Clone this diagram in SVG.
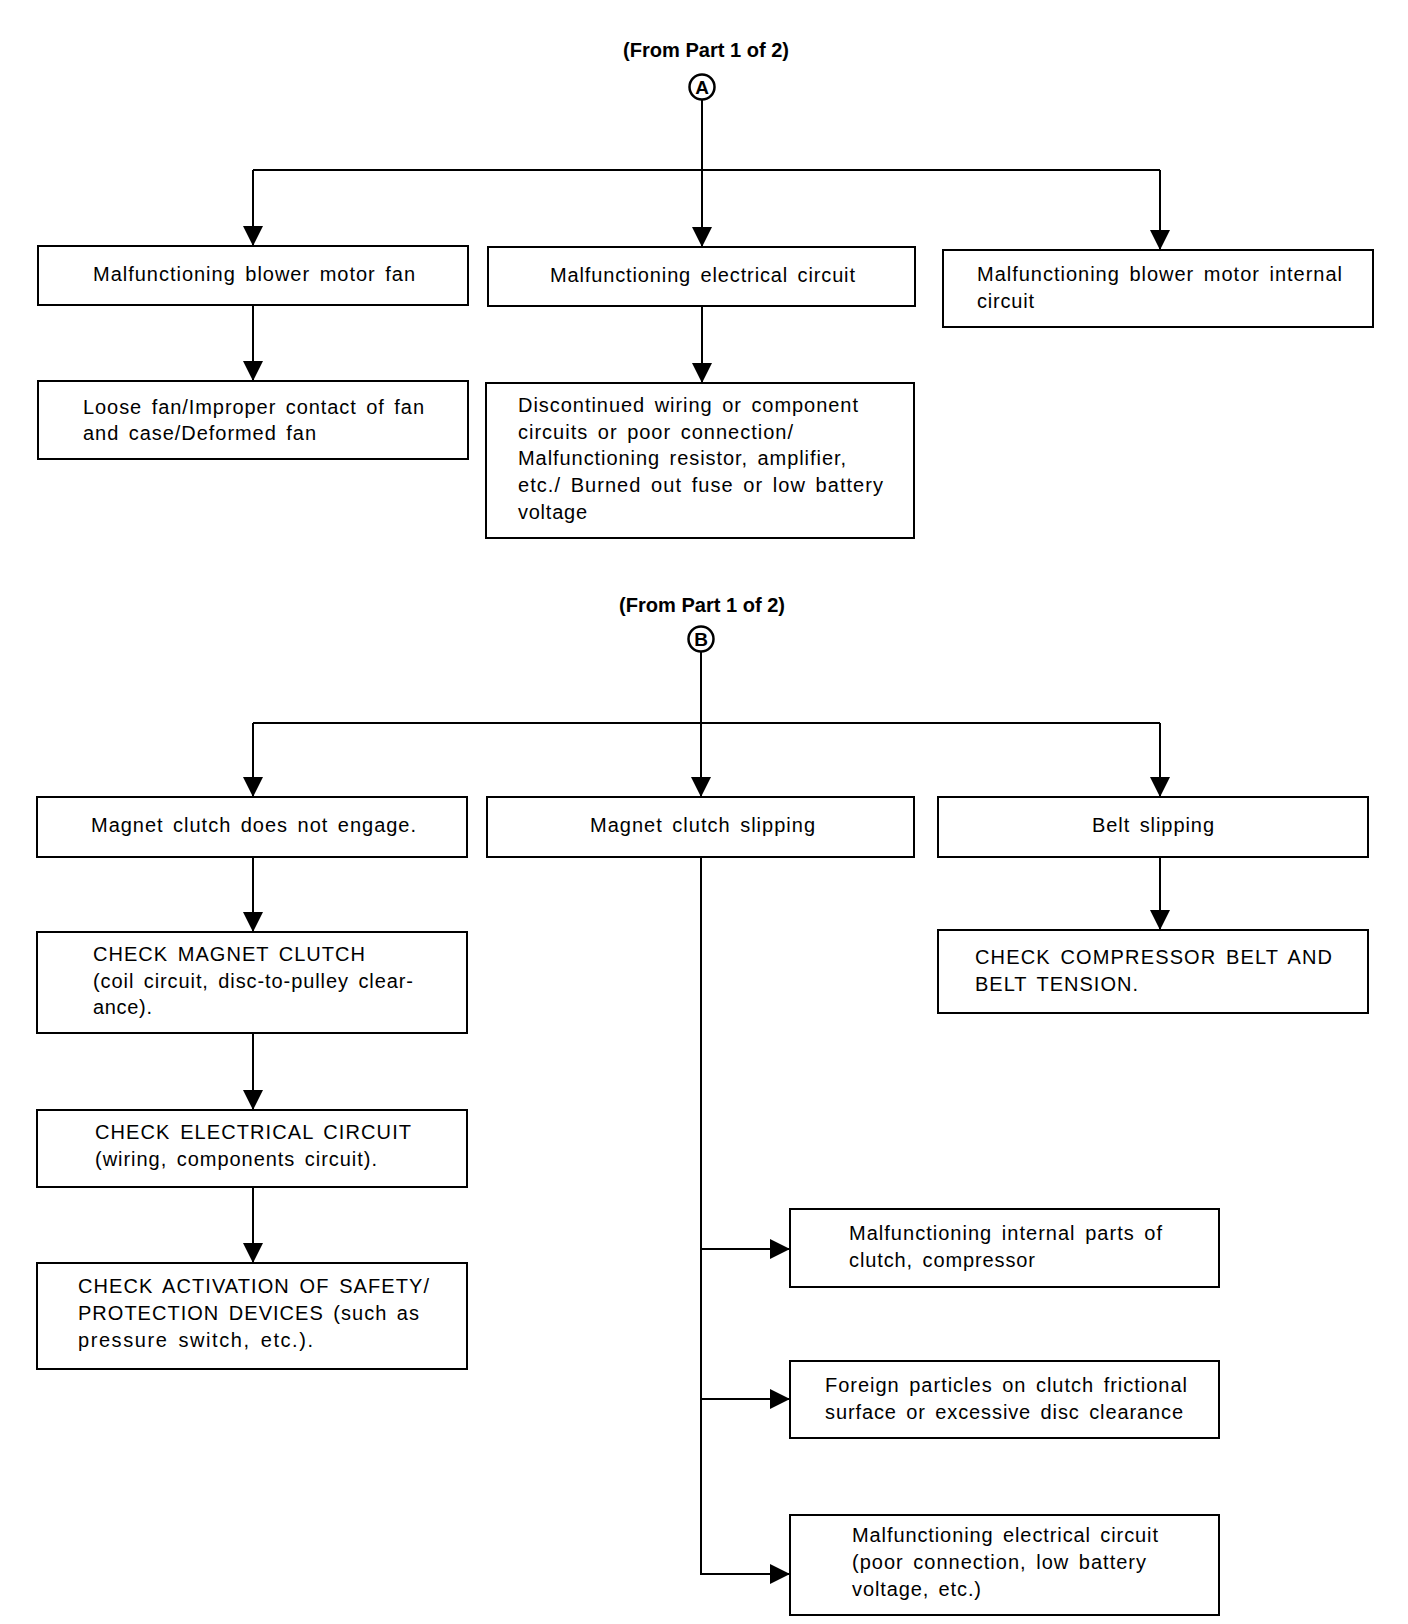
<svg xmlns="http://www.w3.org/2000/svg" width="1408" height="1624" viewBox="0 0 1408 1624">
<style>
.bg{fill:#fff}
.box{fill:#fff;stroke:#000;stroke-width:2}
.ln{fill:none;stroke:#000;stroke-width:2}
.t{font-family:"Liberation Sans",Arial,sans-serif;font-size:20px;fill:#000;word-spacing:3px}
.hd{font-family:"Liberation Sans",Arial,sans-serif;font-size:20px;font-weight:bold;fill:#000;text-anchor:middle}
.lt{font-family:"Liberation Sans",Arial,sans-serif;font-size:19px;font-weight:bold;fill:#000;text-anchor:middle}
.circ{fill:#fff;stroke:#000;stroke-width:2.5}
</style>
<defs>
<marker id="ar" markerUnits="userSpaceOnUse" markerWidth="20" markerHeight="20" viewBox="0 0 20 20" refX="20" refY="10" orient="auto">
<path d="M0,0 L20,10 L0,20 z" fill="#000"/>
</marker>
</defs>
<rect class="bg" x="0" y="0" width="1408" height="1624"/>

<g id="connectors">
<line class="ln" x1="702" y1="100" x2="702" y2="247" marker-end="url(#ar)"/>
<line class="ln" x1="253" y1="170" x2="1160" y2="170"/>
<line class="ln" x1="253" y1="170" x2="253" y2="246" marker-end="url(#ar)"/>
<line class="ln" x1="1160" y1="170" x2="1160" y2="250" marker-end="url(#ar)"/>
<line class="ln" x1="253" y1="305" x2="253" y2="381" marker-end="url(#ar)"/>
<line class="ln" x1="702" y1="306" x2="702" y2="383" marker-end="url(#ar)"/>

<line class="ln" x1="701" y1="652" x2="701" y2="797" marker-end="url(#ar)"/>
<line class="ln" x1="253" y1="723" x2="1160" y2="723"/>
<line class="ln" x1="253" y1="723" x2="253" y2="797" marker-end="url(#ar)"/>
<line class="ln" x1="1160" y1="723" x2="1160" y2="797" marker-end="url(#ar)"/>
<line class="ln" x1="253" y1="857" x2="253" y2="932" marker-end="url(#ar)"/>
<line class="ln" x1="253" y1="1033" x2="253" y2="1110" marker-end="url(#ar)"/>
<line class="ln" x1="253" y1="1187" x2="253" y2="1263" marker-end="url(#ar)"/>
<line class="ln" x1="1160" y1="857" x2="1160" y2="930" marker-end="url(#ar)"/>
<polyline class="ln" points="701,857 701,1574 790,1574" marker-end="url(#ar)"/>
<line class="ln" x1="701" y1="1249" x2="790" y2="1249" marker-end="url(#ar)"/>
<line class="ln" x1="701" y1="1399" x2="790" y2="1399" marker-end="url(#ar)"/>
</g>

<g id="headerA">
<text class="hd" x="706" y="57" textLength="166" lengthAdjust="spacingAndGlyphs">(From Part 1 of 2)</text>
<circle class="circ" cx="702" cy="87" r="12.5"/>
<text class="lt" x="702" y="94">A</text>
</g>
<g id="headerB">
<text class="hd" x="702" y="612" textLength="166" lengthAdjust="spacingAndGlyphs">(From Part 1 of 2)</text>
<circle class="circ" cx="701" cy="639" r="12.5"/>
<text class="lt" x="701" y="646">B</text>
</g>

<g id="n1"><rect class="box" x="38" y="246" width="430" height="59"/>
<text class="t" x="93" y="281" textLength="322" lengthAdjust="spacing">Malfunctioning blower motor fan</text></g>
<g id="n2"><rect class="box" x="488" y="247" width="427" height="59"/>
<text class="t" x="550" y="282" textLength="305" lengthAdjust="spacing">Malfunctioning electrical circuit</text></g>
<g id="n3"><rect class="box" x="943" y="250" width="430" height="77"/>
<text class="t" x="977" y="281" textLength="365" lengthAdjust="spacing">Malfunctioning blower motor internal</text>
<text class="t" x="977" y="308" textLength="57" lengthAdjust="spacing">circuit</text></g>
<g id="n4"><rect class="box" x="38" y="381" width="430" height="78"/>
<text class="t" x="83" y="414" textLength="341" lengthAdjust="spacing">Loose fan/Improper contact of fan</text>
<text class="t" x="83" y="440" textLength="233" lengthAdjust="spacing">and case/Deformed fan</text></g>
<g id="n5"><rect class="box" x="486" y="383" width="428" height="155"/>
<text class="t" x="518" y="412" textLength="340" lengthAdjust="spacing">Discontinued wiring or component</text>
<text class="t" x="518" y="439" textLength="275" lengthAdjust="spacing">circuits or poor connection/</text>
<text class="t" x="518" y="465" textLength="328" lengthAdjust="spacing">Malfunctioning resistor, amplifier,</text>
<text class="t" x="518" y="492" textLength="365" lengthAdjust="spacing">etc./ Burned out fuse or low battery</text>
<text class="t" x="518" y="519" textLength="69" lengthAdjust="spacing">voltage</text></g>

<g id="m1"><rect class="box" x="37" y="797" width="430" height="60"/>
<text class="t" x="91" y="832" textLength="325" lengthAdjust="spacing">Magnet clutch does not engage.</text></g>
<g id="m2"><rect class="box" x="487" y="797" width="427" height="60"/>
<text class="t" x="590" y="832" textLength="225" lengthAdjust="spacing">Magnet clutch slipping</text></g>
<g id="m3"><rect class="box" x="938" y="797" width="430" height="60"/>
<text class="t" x="1092" y="832" textLength="122" lengthAdjust="spacing">Belt slipping</text></g>
<g id="m4"><rect class="box" x="37" y="932" width="430" height="101"/>
<text class="t" x="93" y="961" textLength="272" lengthAdjust="spacing">CHECK MAGNET CLUTCH</text>
<text class="t" x="93" y="988" textLength="320" lengthAdjust="spacing">(coil circuit, disc-to-pulley clear-</text>
<text class="t" x="93" y="1014" textLength="59" lengthAdjust="spacing">ance).</text></g>
<g id="m5"><rect class="box" x="37" y="1110" width="430" height="77"/>
<text class="t" x="95" y="1139" textLength="316" lengthAdjust="spacing">CHECK ELECTRICAL CIRCUIT</text>
<text class="t" x="95" y="1166" textLength="282" lengthAdjust="spacing">(wiring, components circuit).</text></g>
<g id="m6"><rect class="box" x="37" y="1263" width="430" height="106"/>
<text class="t" x="78" y="1293" textLength="351" lengthAdjust="spacing">CHECK ACTIVATION OF SAFETY/</text>
<text class="t" x="78" y="1320" textLength="341" lengthAdjust="spacing">PROTECTION DEVICES (such as</text>
<text class="t" x="78" y="1347" textLength="235" lengthAdjust="spacing">pressure switch, etc.).</text></g>
<g id="m7"><rect class="box" x="938" y="930" width="430" height="83"/>
<text class="t" x="975" y="964" textLength="357" lengthAdjust="spacing">CHECK COMPRESSOR BELT AND</text>
<text class="t" x="975" y="991" textLength="163" lengthAdjust="spacing">BELT TENSION.</text></g>
<g id="m8"><rect class="box" x="790" y="1209" width="429" height="78"/>
<text class="t" x="849" y="1240" textLength="313" lengthAdjust="spacing">Malfunctioning internal parts of</text>
<text class="t" x="849" y="1267" textLength="186" lengthAdjust="spacing">clutch, compressor</text></g>
<g id="m9"><rect class="box" x="790" y="1361" width="429" height="77"/>
<text class="t" x="825" y="1392" textLength="362" lengthAdjust="spacing">Foreign particles on clutch frictional</text>
<text class="t" x="825" y="1419" textLength="358" lengthAdjust="spacing">surface or excessive disc clearance</text></g>
<g id="m10"><rect class="box" x="790" y="1515" width="429" height="100"/>
<text class="t" x="852" y="1542" textLength="306" lengthAdjust="spacing">Malfunctioning electrical circuit</text>
<text class="t" x="852" y="1569" textLength="294" lengthAdjust="spacing">(poor connection, low battery</text>
<text class="t" x="852" y="1596" textLength="129" lengthAdjust="spacing">voltage, etc.)</text></g>
</svg>
